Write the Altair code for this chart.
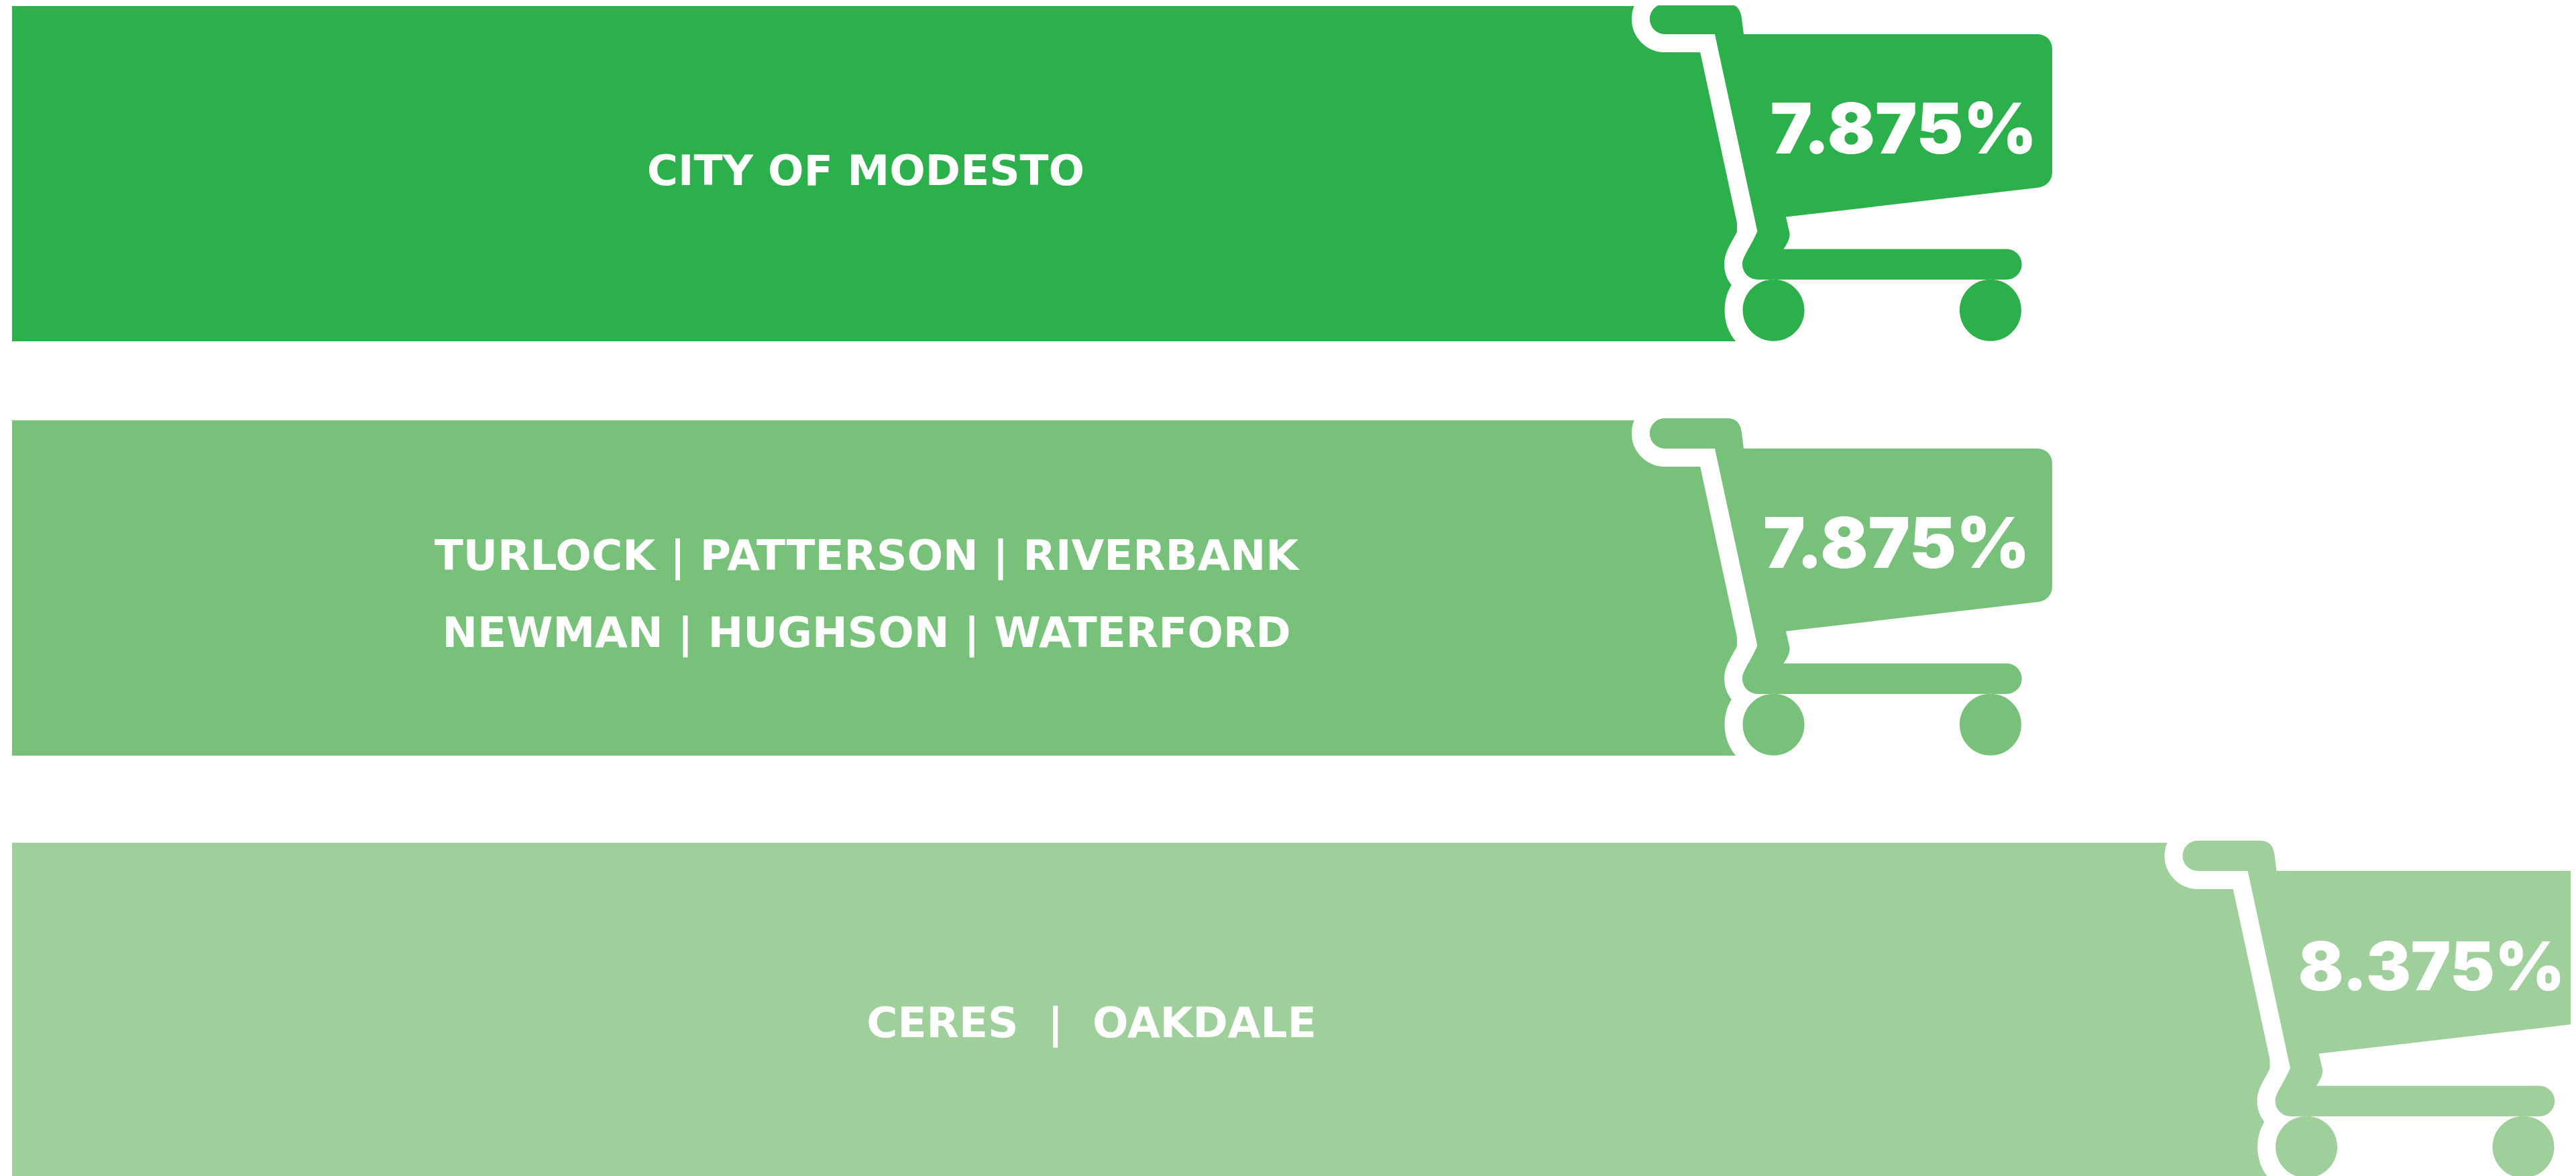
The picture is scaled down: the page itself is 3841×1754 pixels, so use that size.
import altair as alt
import pandas as pd

# ---- values ----
GROUPS = ["City of Modesto", "Turlock group", "Ceres and Oakdale"]
RATES = [7.875, 7.875, 8.375]
RATE_LABELS = ["7.875%", "7.875%", "8.375%"]
NAME_LABELS = [
    "CITY OF MODESTO",
    "TURLOCK | PATTERSON | RIVERBANK\nNEWMAN | HUGHSON | WATERFORD",
    "CERES \u00a0|\u00a0 OAKDALE",
]
ROWS = [0, 1, 2]
COLORS = ["#2CB04C", "#78C17A", "#9FD09C"]

# ---- scale settings (axis is cut off, as in the source graphic) ----
X_DOMAIN = [6.2503, 8.6572]
BAR_BASE = 6.2566
Y_RANGE = [251, 869, 1499]
W, H = 3825, 1746

# shopping-cart glyph, units are px at symbol size 4; origin = end of the bar, mid height
CART = (
    "M-107.4 -253.3 L-15.5 -253.3 C-2 -253.3 5 -247 7 -232 L10 -208 L448 -208 "
    "C460 -208 470 -199 470 -186 L470 -2 C470 11 460 20 448 21 L73 64.6 L78.6 89 "
    "C79 96 76 103 69.4 112.6 L402 112.6 A22.7 22.7 0 0 1 402 158 L31.8 158 "
    "C18 158 8 148 8 134.6 C8 124 20 110 30.4 86 L-33 -208 L-107.4 -208 "
    "A22.65 22.65 0 0 1 -107.4 -253.3 Z "
    "M8.6 203.7 A46 46 0 1 0 100.6 203.7 A46 46 0 1 0 8.6 203.7 Z "
    "M332 203.7 A46 46 0 1 0 424 203.7 A46 46 0 1 0 332 203.7 Z"
)

df = pd.DataFrame({
    "group": GROUPS,
    "rate": RATES,
    "rate_label": RATE_LABELS,
    "name": NAME_LABELS,
    "row": ROWS,
})
df["base"] = BAR_BASE
df["mid"] = (df["base"] + df["rate"]) / 2

x_scale = alt.Scale(domain=X_DOMAIN, nice=False, zero=False, padding=0)
x = alt.X("rate:Q", axis=None, scale=x_scale)
y = alt.Y("row:Q", axis=None, scale=alt.Scale(domain=ROWS, range=Y_RANGE, nice=False, zero=False, padding=0))
color = alt.Color("group:N", legend=None, scale=alt.Scale(domain=GROUPS, range=COLORS))

base = alt.Chart(df)

bars = base.mark_bar(size=500, orient="horizontal").encode(x=x, x2="base:Q", y=y, color=color)

halo = base.mark_point(
    shape=CART, size=4, filled=True, fill="white", stroke="white",
    strokeWidth=54, strokeJoin="round", opacity=1,
).encode(x=x, y=y)

cart = base.mark_point(
    shape=CART, size=4, filled=True, opacity=1, strokeWidth=0,
).encode(x=x, y=y, color=color)

layers = [bars, halo, cart]

NAME_STYLE = {0: (-13, 16.5), 1: (-12, -27), 2: (-73.8, 40)}
RATE_STYLE = {0: (248.5, 105), 1: (238, 105), 2: (241, 100)}

for r in ROWS:
    one = base.transform_filter(alt.datum.row == r)
    dx, dy = NAME_STYLE[r]
    rate_dx, rate_size = RATE_STYLE[r]
    layers.append(
        one.mark_text(
            font="DejaVu Sans", fontWeight=700, fontSize=63, color="white",
            align="center", baseline="alphabetic", lineBreak="\n", lineHeight=115,
            dx=dx, dy=dy,
        ).encode(x=alt.X("mid:Q", axis=None, scale=x_scale), y=y, text="name:N")
    )
    layers.append(
        one.mark_text(
            font="Inter", fontWeight=900, fontSize=rate_size, color="white",
            align="center", baseline="alphabetic", dx=rate_dx, dy=-30.5,
        ).encode(x=x, y=y, text="rate_label:N")
    )

chart = (
    alt.layer(*layers)
    .properties(width=W, height=H, padding=0, background="white",
                autosize=alt.AutoSizeParams(type="none"))
    .configure_view(stroke=None)
)

chart.save("out.html", embed_options={"renderer": "svg", "actions": False})
